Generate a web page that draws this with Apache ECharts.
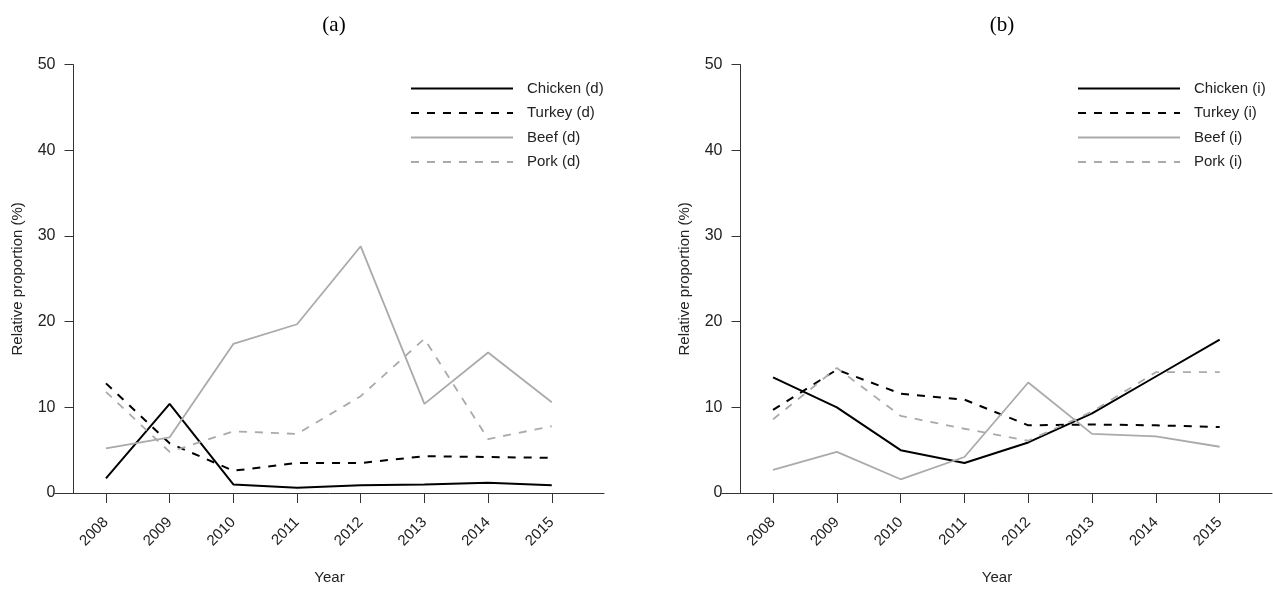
<!DOCTYPE html>
<html>
<head>
<meta charset="utf-8">
<script src="https://cdn.jsdelivr.net/npm/echarts@6/dist/echarts.min.js"></script>
<style>
  html, body { margin: 0; padding: 0; background: #fff; }
  #chart { width: 1273px; height: 590px; }
</style>
</head>
<body>
<div id="chart"></div>
<script>
// Years on the horizontal axis
const years = [2008, 2009, 2010, 2011, 2012, 2013, 2014, 2015];

// Panel (a): domestic sources (%)
const chickenD = [1.7, 10.4, 1.0, 0.6, 0.9, 1.0, 1.2, 0.9];
const turkeyD  = [12.8, 5.8, 2.6, 3.5, 3.5, 4.3, 4.2, 4.1];
const beefD    = [5.2, 6.5, 17.4, 19.7, 28.8, 10.4, 16.4, 10.6];
const porkD    = [11.8, 4.8, 7.2, 6.9, 11.3, 18.0, 6.3, 7.8];

// Panel (b): imported sources (%)
const chickenI = [13.5, 10.0, 5.0, 3.5, 5.9, 9.3, 13.6, 17.9];
const turkeyI  = [9.7, 14.4, 11.6, 10.9, 7.9, 8.0, 7.9, 7.7];
const beefI    = [2.7, 4.8, 1.6, 4.2, 12.9, 6.9, 6.6, 5.4];
const porkI    = [8.6, 14.6, 9.0, 7.5, 6.1, 9.5, 14.1, 14.1];

const namesD = ['Chicken (d)', 'Turkey (d)', 'Beef (d)', 'Pork (d)'];
const namesI = ['Chicken (i)', 'Turkey (i)', 'Beef (i)', 'Pork (i)'];

const FONT = 'Liberation Sans, Arial, sans-serif';
const AXIS_COLOR = '#333';
const TEXT_COLOR = '#222';

const styles = [
  { color: '#000', width: 2, type: 'solid' },
  { color: '#000', width: 2, type: [8, 8] },
  { color: '#aaa', width: 1.8, type: 'solid' },
  { color: '#aaa', width: 1.8, type: [8, 8] }
];

const pair = vals => years.map((y, i) => [y, vals[i]]);

function makeSeries(names, sets, idx) {
  return sets.map((vals, k) => ({
    name: names[k],
    type: 'line',
    xAxisIndex: idx,
    yAxisIndex: idx,
    data: pair(vals),
    symbol: 'none',
    showSymbol: false,
    animation: false,
    lineStyle: { color: styles[k].color, width: styles[k].width, type: styles[k].type },
    itemStyle: { color: styles[k].color }
  }));
}

function xAxisFor(idx) {
  return {
    type: 'value',
    gridIndex: idx,
    min: 2007.2,
    max: 2015.82,
    name: 'Year',
    nameLocation: 'middle',
    nameGap: 77,
    nameTextStyle: { fontFamily: FONT, fontSize: 15, color: TEXT_COLOR },
    axisLine: { onZero: false, lineStyle: { color: AXIS_COLOR, width: 1 } },
    axisTick: { show: true, length: 10, inside: false, customValues: years, lineStyle: { color: AXIS_COLOR } },
    axisLabel: {
      customValues: years,
      rotate: 45,
      margin: 27,
      fontFamily: FONT,
      fontSize: 15,
      color: TEXT_COLOR,
      formatter: v => String(v)
    },
    splitLine: { show: false }
  };
}

function yAxisFor(idx) {
  return {
    type: 'value',
    gridIndex: idx,
    min: 0,
    max: 50,
    interval: 10,
    offset: -18.5,
    name: 'Relative proportion (%)',
    nameLocation: 'middle',
    nameGap: 48,
    nameTextStyle: { fontFamily: FONT, fontSize: 15, color: TEXT_COLOR },
    axisLine: { show: true, lineStyle: { color: AXIS_COLOR, width: 1 } },
    axisTick: { show: true, length: 9, lineStyle: { color: AXIS_COLOR } },
    axisLabel: { margin: 18, fontFamily: FONT, fontSize: 16, color: TEXT_COLOR },
    splitLine: { show: false }
  };
}

// Legend rows show only the line sample (no marker) and the series name
function legendFor(names, left) {
  return {
    data: names,
    orient: 'vertical',
    left: left,
    top: 76,
    itemWidth: 102,
    itemHeight: 14,
    itemGap: 9.5,
    selectedMode: false,
    itemStyle: { opacity: 0 },
    textStyle: { fontFamily: FONT, fontSize: 15, color: TEXT_COLOR, padding: [0, 0, 0, 9] }
  };
}

const chart = echarts.init(document.getElementById('chart'), null, { renderer: 'canvas' });

chart.setOption({
  backgroundColor: '#fff',
  animation: false,
  title: [
    { text: '(a)', left: 329, top: 10, textAlign: 'center',
      textStyle: { fontFamily: 'Liberation Serif, Times New Roman, serif', fontSize: 21, fontWeight: 'normal', color: '#000' } },
    { text: '(b)', left: 997, top: 10, textAlign: 'center',
      textStyle: { fontFamily: 'Liberation Serif, Times New Roman, serif', fontSize: 21, fontWeight: 'normal', color: '#000' } }
  ],
  grid: [
    { left: 55, width: 549, top: 64.7, height: 428.6 },
    { left: 722, width: 550, top: 64.7, height: 428.6 }
  ],
  xAxis: [xAxisFor(0), xAxisFor(1)],
  yAxis: [yAxisFor(0), yAxisFor(1)],
  legend: [legendFor(namesD, 405), legendFor(namesI, 1072)],
  series: [
    ...makeSeries(namesD, [chickenD, turkeyD, beefD, porkD], 0),
    ...makeSeries(namesI, [chickenI, turkeyI, beefI, porkI], 1)
  ]
});
</script>
</body>
</html>
